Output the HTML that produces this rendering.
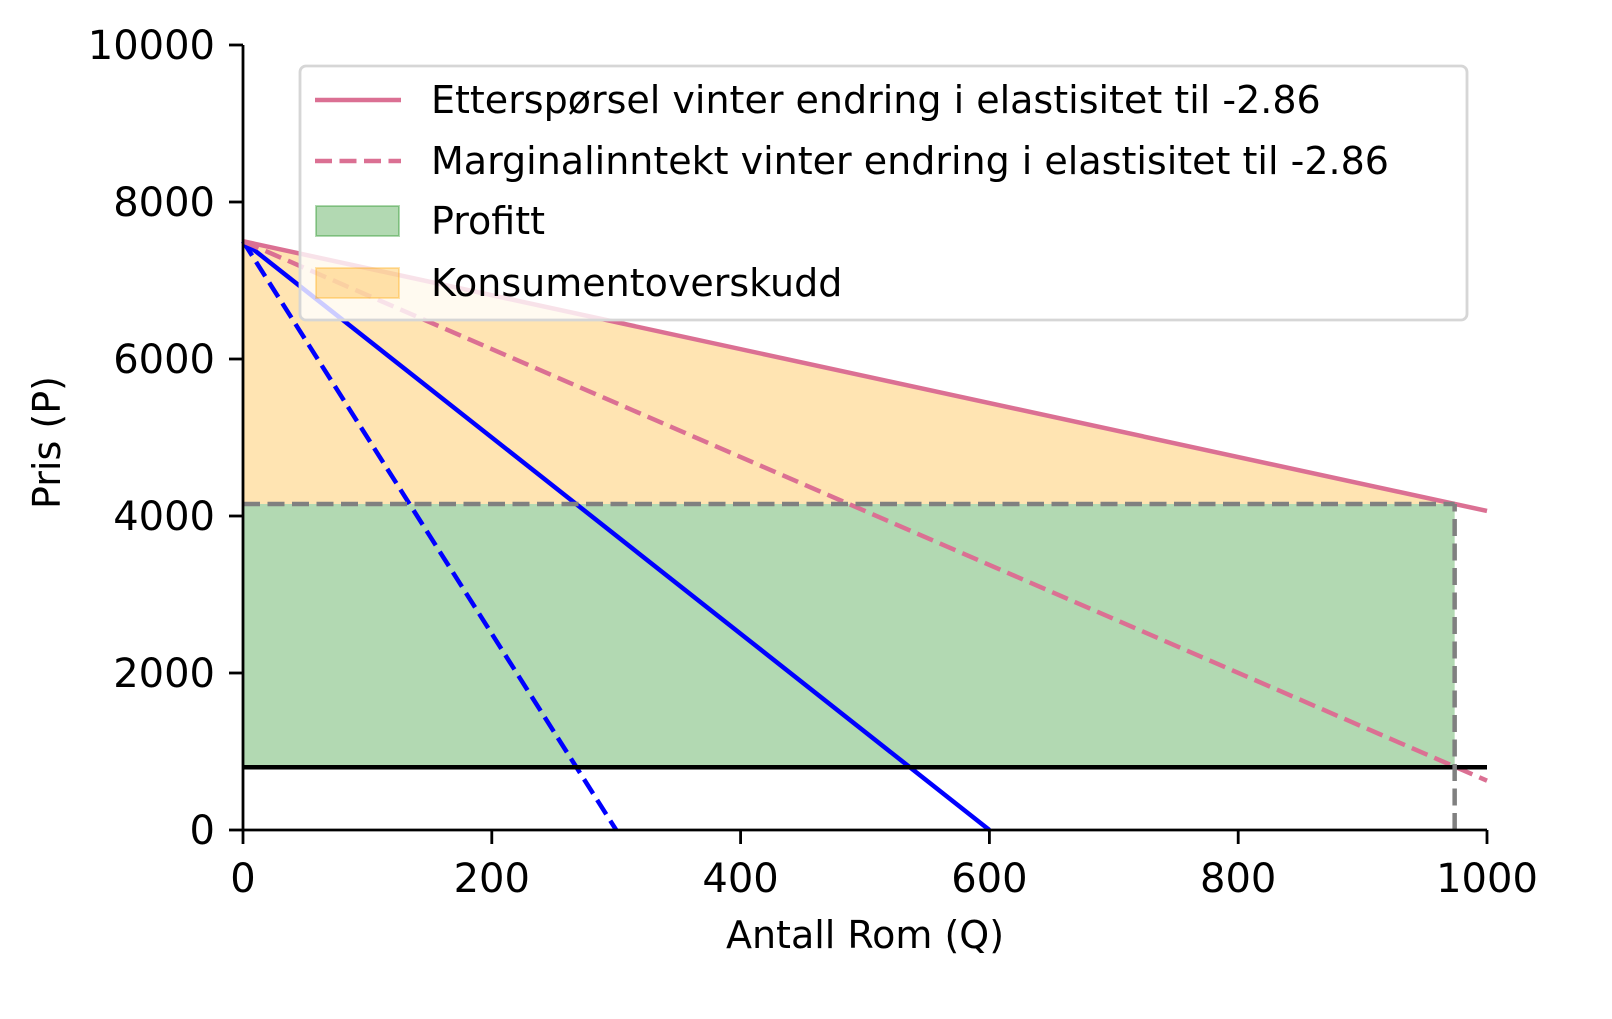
<!DOCTYPE html>
<html><head><meta charset="utf-8"><style>
html,body{margin:0;padding:0;background:#fff;}
svg text{font-family:"DejaVu Sans","Liberation Sans",sans-serif;fill:#000;}
</style></head><body>
<svg id="chart" width="1612" height="1014" viewBox="0 0 1612 1014" xmlns="http://www.w3.org/2000/svg">
<g id="plot"></g>
</svg>
<script>
const xTicks=[0,200,400,600,800,1000];
const yTicks=[0,2000,4000,6000,8000,10000];
const demandIntercept=[7500];
const demandEndQ=[1000];
const demandEndP=[4064];
const blueDemandZeroQ=[600];
const blueMRZeroQ=[300];
const mcValue=[800];
const optimumQ=[974];
const legendLabels=["Etterspørsel vinter endring i elastisitet til -2.86","Marginalinntekt vinter endring i elastisitet til -2.86","Profitt","Konsumentoverskudd"];

const X0=243,X1=1487,Y0=830,Y1=45;
const sx=q=>X0+(q-0)/(1000-0)*(X1-X0);
const sy=p=>Y0-(p-0)/(10000-0)*(Y0-Y1);
const NS="http://www.w3.org/2000/svg";
const g=document.getElementById('plot');
function mk(tag,attrs,parent){const e=document.createElementNS(NS,tag);for(const k in attrs)e.setAttribute(k,attrs[k]);(parent||g).appendChild(e);return e;}

const a=demandIntercept[0],slope=(a-demandEndP[0])/demandEndQ[0];
const D=q=>a-slope*q, MR=q=>a-2*slope*q;
const qs=optimumQ[0],ps=D(qs),mc=mcValue[0];
const LW=4.5, DASH='17,7.5';

let e;
e=mk('polygon',{points:`${sx(0)},${sy(mc)} ${sx(qs)},${sy(mc)} ${sx(qs)},${sy(ps)} ${sx(0)},${sy(ps)}`,fill:'rgba(0,128,0,0.3)'});


e=mk('polygon',{points:`${sx(0)},${sy(ps)} ${sx(qs)},${sy(ps)} ${sx(0)},${sy(a)}`,fill:'rgba(255,165,0,0.3)'});



e=mk('line',{x1:sx(0),y1:sy(a),x2:sx(blueDemandZeroQ[0]),y2:sy(0),stroke:'#0000ff','stroke-width':LW});


e=mk('line',{x1:sx(0),y1:sy(a),x2:sx(blueMRZeroQ[0]),y2:sy(0),stroke:'#0000ff','stroke-width':LW,'stroke-dasharray':DASH});



e=mk('line',{x1:sx(0),y1:sy(a),x2:sx(1000),y2:sy(D(1000)),stroke:'#db7093','stroke-width':LW});


e=mk('line',{x1:sx(0),y1:sy(a),x2:sx(1000),y2:sy(MR(1000)),stroke:'#db7093','stroke-width':LW,'stroke-dasharray':DASH});



e=mk('line',{x1:sx(0),y1:sy(mc),x2:sx(1000),y2:sy(mc),stroke:'#000','stroke-width':LW});


e=mk('line',{x1:sx(0),y1:sy(ps),x2:sx(qs),y2:sy(ps),stroke:'#808080','stroke-width':LW,'stroke-dasharray':DASH});


e=mk('line',{x1:sx(qs),y1:sy(0),x2:sx(qs),y2:sy(ps),stroke:'#808080','stroke-width':LW,'stroke-dasharray':DASH});



e=mk('line',{x1:X0,y1:Y0,x2:X0,y2:Y1,stroke:'#000','stroke-width':2.8});


e=mk('line',{x1:X0,y1:Y0,x2:X1,y2:Y0,stroke:'#000','stroke-width':2.8});



xTicks.forEach(t=>{
 mk('line',{x1:sx(t),y1:Y0,x2:sx(t),y2:Y0+14,stroke:'#000','stroke-width':2.8});
 const tx=mk('text',{x:sx(t),y:Y0+62,'text-anchor':'middle','font-size':40});
 tx.textContent=t;
 
 
});
yTicks.forEach(t=>{
 mk('line',{x1:X0,y1:sy(t),x2:X0-14,y2:sy(t),stroke:'#000','stroke-width':2.8});
 const tx=mk('text',{x:X0-28,y:sy(t)+14,'text-anchor':'end','font-size':40});
 tx.textContent=t;
 
 
});
e=mk('text',{x:(X0+X1)/2,y:948,'text-anchor':'middle','font-size':38});
e.textContent='Antall Rom (Q)';


e=mk('text',{x:0,y:0,'text-anchor':'middle','font-size':38,transform:`translate(60,${(Y0+Y1)/2+5}) rotate(-90)`});
e.textContent='Pris (P)';



const lg=mk('g',{});


mk('rect',{x:300,y:66,width:1167,height:254,rx:6,fill:'rgba(255,255,255,0.8)',stroke:'#d6d6d6','stroke-width':2.8},lg);
const rows=[100,161,221,283];
legendLabels.forEach((lab,i)=>{
 const y=rows[i];
 if(i===0) mk('line',{x1:315,y1:y,x2:401,y2:y,stroke:'#db7093','stroke-width':LW},lg);
 if(i===1) mk('line',{x1:315,y1:y,x2:401,y2:y,stroke:'#db7093','stroke-width':LW,'stroke-dasharray':DASH},lg);
 if(i===2) mk('rect',{x:316,y:y-15,width:83,height:30,fill:'rgba(0,128,0,0.3)',stroke:'rgba(0,128,0,0.3)','stroke-width':2},lg);
 if(i===3) mk('rect',{x:316,y:y-15,width:83,height:30,fill:'rgba(255,165,0,0.3)',stroke:'rgba(255,165,0,0.3)','stroke-width':2},lg);
 const t=mk('text',{x:431,y:y+13,'font-size':38},lg);
 t.textContent=lab;
 
 
});
</script>
</body></html>
